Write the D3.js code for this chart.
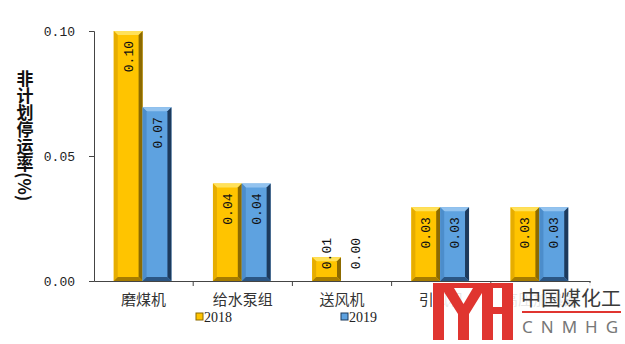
<!DOCTYPE html>
<html>
<head>
<meta charset="utf-8">
<script src="https://cdn.jsdelivr.net/npm/d3@7"></script>
<style>
  body { margin: 0; background: #fff; }
  svg { display: block; }
</style>
</head>
<body>
<script>
// data
const categories = ['磨煤机', '给水泵组', '送风机', '引风机', '高压加热器'];
const seriesNames = ['2018', '2019'];
const values2018 = [0.100, 0.039, 0.0095, 0.0295, 0.0295];
const values2019 = [0.0695, 0.039, 0.000, 0.0295, 0.0295];
const yTicks = [0, 0.05, 0.10];

const width = 625, height = 344;
const margin = ({top: 31, right: 35, bottom: 63, left: 94});

const palette = {
  '2018': {main: '#ffc400', top: '#ffe15a', left: '#e6ad00', right: '#8c6a00', bottom: '#a67c00'},
  '2019': {main: '#5ea2e0', top: '#93c3ef', left: '#4c8dcb', right: '#1d3a5c', bottom: '#2b5684'}
};

const rows = categories.map((c, i) => ({
  name: c,
  vals: [{s: '2018', v: values2018[i]}, {s: '2019', v: values2019[i]}]
}));

const svg = d3.select('body').append('svg')
  .attr('width', width)
  .attr('height', height);

const x = d3.scaleBand()
  .domain(categories)
  .range([margin.left, width - margin.right]);

const xSub = d3.scaleBand()
  .domain(seriesNames)
  .range([0, x.bandwidth()])
  .paddingOuter(0.72);

const y = d3.scaleLinear()
  .domain([0, 0.10])
  .range([height - margin.bottom, margin.top]);

// bars with a bevel look
const bev = 4;
const groups = svg.append('g').selectAll('g')
  .data(rows)
  .join('g')
  .attr('transform', d => `translate(${x(d.name) - 1},0)`);

const bars = groups.selectAll('g.bar')
  .data(d => d.vals.filter(e => e.v > 0))
  .join('g')
  .attr('class', 'bar');

bars.each(function(d) {
  const g = d3.select(this);
  const c = palette[d.s];
  const x0 = xSub(d.s), x1 = x0 + xSub.bandwidth();
  const y0 = y(d.v), y1 = y(0);
  const b = Math.min(bev, (y1 - y0) / 2);
  g.append('rect')
    .attr('x', x0).attr('y', y0)
    .attr('width', x1 - x0).attr('height', y1 - y0)
    .attr('fill', c.main);
  const poly = (pts, fill) => g.append('polygon')
    .attr('points', pts.map(p => p.join(',')).join(' '))
    .attr('fill', fill);
  poly([[x0, y0], [x1, y0], [x1 - b, y0 + b], [x0 + b, y0 + b]], c.top);
  poly([[x0, y0], [x0 + b, y0 + b], [x0 + b, y1 - b], [x0, y1]], c.left);
  poly([[x1, y0], [x1, y1], [x1 - b, y1 - b], [x1 - b, y0 + b]], c.right);
  poly([[x0, y1], [x0 + b, y1 - b], [x1 - b, y1 - b], [x1, y1]], c.bottom);
});

// value labels, rotated
groups.selectAll('text.val')
  .data(d => d.vals)
  .join('text')
  .attr('class', 'val')
  .attr('font-family', 'Liberation Mono, monospace')
  .attr('font-size', 13)
  .attr('fill', '#111')
  .attr('text-anchor', 'end')
  .attr('dominant-baseline', 'central')
  .attr('transform', d => {
    const cx = xSub(d.s) + xSub.bandwidth() / 2 + 1;
    const top = Math.min(y(d.v) + 10, y(0) - 43);
    return `translate(${cx},${top}) rotate(-90)`;
  })
  .text(d => d3.format('.2f')(d.v));

// axes
const yAxis = d3.axisLeft(y).tickValues(yTicks).tickSize(5).tickFormat(d3.format('.2f'));
const gy = svg.append('g')
  .attr('transform', `translate(${margin.left},0)`)
  .call(yAxis);
gy.select('.domain').attr('stroke', '#444');
gy.selectAll('.tick line').attr('stroke', '#444');
gy.selectAll('.tick text')
  .attr('x', -19)
  .attr('font-family', 'Liberation Mono, monospace')
  .attr('font-size', 13)
  .attr('fill', '#222');

const xAxis = d3.axisBottom(x).tickSize(0).tickSizeOuter(0);
const gx = svg.append('g')
  .attr('transform', `translate(0,${y(0)})`)
  .call(xAxis);
gx.select('.domain').attr('stroke', '#444');
gx.selectAll('.tick text')
  .attr('dy', 0)
  .attr('y', 24)
  .attr('font-family', 'Noto Sans CJK SC, sans-serif')
  .attr('font-size', 15)
  .attr('fill', '#333');

// category boundary ticks
svg.append('g').selectAll('line')
  .data(categories)
  .join('line')
  .attr('x1', d => x(d) + x.bandwidth())
  .attr('x2', d => x(d) + x.bandwidth())
  .attr('y1', y(0))
  .attr('y2', y(0) + 5)
  .attr('stroke', '#444');

// y title, vertical text
svg.append('text')
  .attr('x', 25)
  .attr('y', 70)
  .style('writing-mode', 'vertical-rl')
  .attr('font-family', 'Noto Sans CJK SC, sans-serif')
  .attr('font-weight', 'bold')
  .attr('font-size', 17)
  .attr('fill', '#111')
  .text('非计划停运率(%)');

// legend
const legendX = [196, 341];
const lg = svg.append('g').selectAll('g')
  .data(seriesNames)
  .join('g')
  .attr('transform', (d, i) => `translate(${legendX[i]},313)`);
lg.append('rect')
  .attr('width', 7).attr('height', 7)
  .attr('fill', d => palette[d].main)
  .attr('stroke', d => palette[d].right)
  .attr('stroke-width', 1);
lg.append('text')
  .attr('x', 8)
  .attr('y', 9)
  .attr('font-family', 'Liberation Serif, serif')
  .attr('font-size', 14)
  .attr('fill', '#222')
  .text(d => d);

// watermark logo
const wm = svg.append('g');
wm.append('rect')
  .attr('x', 432).attr('y', 283).attr('width', 193).attr('height', 61)
  .attr('fill', '#fff').attr('opacity', 0.88);
const red = '#e03530';
wm.append('rect').attr('x', 433).attr('y', 283).attr('width', 80).attr('height', 5).attr('fill', red);
wm.append('rect').attr('x', 433).attr('y', 283).attr('width', 11).attr('height', 57).attr('fill', red);
wm.append('rect').attr('x', 458).attr('y', 312).attr('width', 11).attr('height', 28).attr('fill', red);
wm.append('rect').attr('x', 482).attr('y', 283).attr('width', 11).attr('height', 57).attr('fill', red);
wm.append('rect').attr('x', 493).attr('y', 307).attr('width', 9).attr('height', 7).attr('fill', red);
wm.append('rect').attr('x', 502).attr('y', 283).attr('width', 11).attr('height', 57).attr('fill', red);
wm.append('polygon')
  .attr('points', '444,288 454,288 463.5,304 473,288 482,288 482,293 469,314 458,314 444,292')
  .attr('fill', red);
wm.append('text')
  .attr('x', 521).attr('y', 306)
  .attr('font-family', 'Noto Sans CJK SC, sans-serif')
  .attr('font-size', 20)
  .attr('fill', '#3a3a3a')
  .text('中国煤化工');
wm.append('rect').attr('x', 522).attr('y', 311).attr('width', 99).attr('height', 2).attr('fill', red);
wm.append('text')
  .attr('x', 522).attr('y', 333)
  .attr('font-family', 'Noto Sans, sans-serif')
  .attr('font-size', 17)
  .attr('letter-spacing', 8)
  .attr('fill', '#777')
  .text('CNMHG');
</script>
</body>
</html>
